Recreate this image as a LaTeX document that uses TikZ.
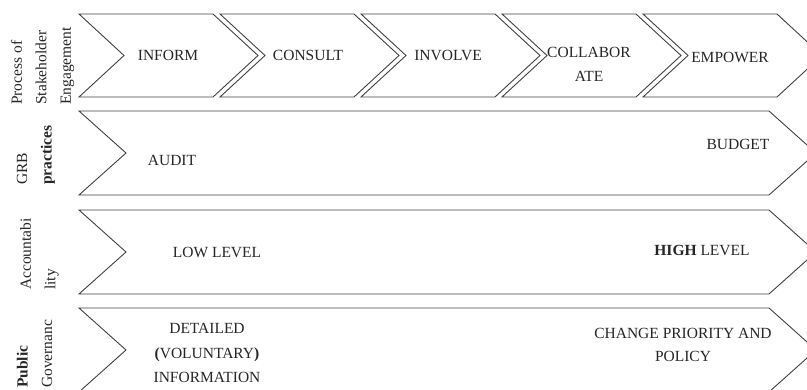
\documentclass[tikz,border=0pt]{standalone}
\usepackage{fontspec}
\setmainfont{Liberation Serif}
\newcommand\chevshape[5]{% x0, width, depth, top, bottom
  \draw[shapeline] (#1,#4) -- ({#1+#2},#4) -- ({#1+#2+#3},{(#4+#5)/2}) -- ({#1+#2},#5) -- (#1,#5) -- ({#1+#3},{(#4+#5)/2}) -- cycle;}
\tikzset{
  shapeline/.style={draw=black!75, line width=0.9pt, line join=miter},
  lbl/.style={font=\fontsize{15.5}{24.5}\selectfont, text=black!85, inner sep=0pt, align=center},
  sidelbl/.style={font=\fontsize{15.5}{24.5}\selectfont, text=black!85, inner sep=0pt, align=left, rotate=90, anchor=west}
}
\begin{document}
\begin{tikzpicture}[x=1pt,y=1pt]
\useasboundingbox (0,0) rectangle (807,389);
\clip (0,0) rectangle (807,389);
% top row chevrons
\chevshape{79}{134}{45}{375}{292}
\chevshape{220}{134}{45}{375}{292}
\chevshape{361}{134}{45}{375}{292}
\chevshape{502}{134}{45}{375}{292}
\chevshape{643}{134}{45}{375}{292}
% long rows
\chevshape{79}{690}{47}{278}{194}
\chevshape{79}{690}{47}{179}{95}
\chevshape{79}{690}{47}{81}{-3}
% top row texts
\node[lbl] (inform) at (168,334) {INFORM};
\node[lbl] (consult) at (308,334) {CONSULT};
\node[lbl] (involve) at (448,334) {INVOLVE};
\node[lbl] (collab) at (589,324.5) {COLLABOR\\ATE};
\node[lbl] (empower) at (730,332) {EMPOWER};
% row 2
\node[lbl] (audit) at (172,229) {AUDIT};
\node[lbl] (budget) at (738,245) {BUDGET};
% row 3
\node[lbl] (low) at (217,137) {LOW LEVEL};
\node[lbl] (high) at (702,139) {\textbf{HIGH} LEVEL};
% row 4
\node[lbl] (detail) at (207,36) {DETAILED\\\textbf{(}VOLUNTARY\textbf{)}\\INFORMATION};
\node[lbl, font=\fontsize{15.5}{23}\selectfont] (change) at (683,44.5) {CHANGE PRIORITY AND\\POLICY};
% side labels
\node[sidelbl] (lab1) at (42.5,284) {Process of\\Stakeholder\\Engagement};
\node[sidelbl] (lab2) at (36,204) {GRB\\\textbf{practices}};
\node[sidelbl] (lab3) at (39.5,99) {Accountabi\\lity};
\node[sidelbl] (lab4) at (34.5,1) {\textbf{Public}\\Governanc};
\end{tikzpicture}
\end{document}
